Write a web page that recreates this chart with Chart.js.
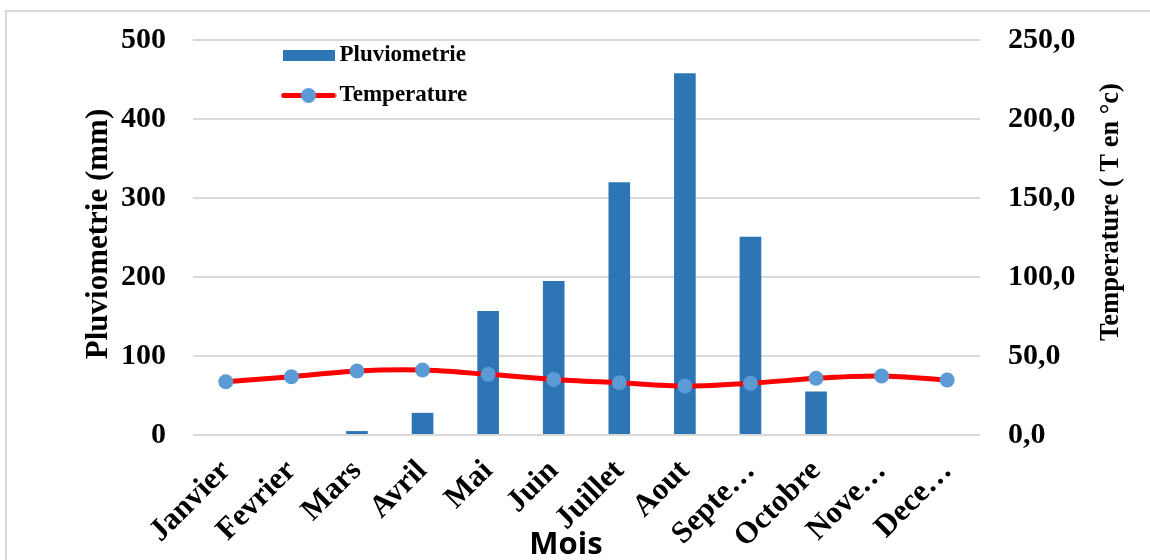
<!DOCTYPE html>
<html>
<head>
<meta charset="utf-8">
<script src="https://cdn.jsdelivr.net/npm/chart.js@4.4.1/dist/chart.umd.min.js"></script>
<style>
  html, body { margin: 0; padding: 0; background: #fff; overflow: hidden; }
  #wrap { position: relative; width: 1150px; height: 560px; }
  #frame { position: absolute; left: 5px; top: 10px; width: 1200px; height: 600px; border: 2px solid #d9d9d9; box-sizing: border-box; }
  canvas { position: absolute; left: 0; top: 0; }
</style>
</head>
<body>
<div id="wrap">
  <div id="frame"></div>
  <canvas id="climChart" width="1150" height="560"></canvas>
</div>
<script>
const months = ['Janvier', 'Fevrier', 'Mars', 'Avril', 'Mai', 'Juin', 'Juillet', 'Aout', 'Septembre', 'Octobre', 'Novembre', 'Decembre'];
// libelles tels qu'affiches (tronques) sous l'axe
const monthTicks = ['Janvier', 'Fevrier', 'Mars', 'Avril', 'Mai', 'Juin', 'Juillet', 'Aout', 'Septe\u2026', 'Octobre', 'Nove\u2026', 'Dece\u2026'];
const pluvio = [0, 0, 5, 28, 157, 195, 320, 458, 251, 55, 0, 0];
const temperature = [33.7, 36.9, 40.5, 41.1, 38.4, 35.2, 33.1, 31.0, 32.7, 35.9, 37.3, 34.8];
const pluvioRange = [0, 500, 100];
const tempRange = [0, 250, 50];

const serif = '"Liberation Serif", "Times New Roman", serif';
const barColor = '#2e75b6';
const lineColor = '#ff0000';
const pointColor = '#5b9bd5';

// petites vignettes pour la legende
function swatchBar() {
  const c = document.createElement('canvas');
  c.width = 52; c.height = 11;
  const g = c.getContext('2d');
  g.fillStyle = barColor;
  g.fillRect(0, 0, 52, 11);
  return c;
}
function swatchLine() {
  const c = document.createElement('canvas');
  c.width = 56; c.height = 17;
  const g = c.getContext('2d');
  g.strokeStyle = lineColor;
  g.lineWidth = 5;
  g.lineCap = 'round';
  g.beginPath(); g.moveTo(3, 8.5); g.lineTo(53, 8.5); g.stroke();
  g.fillStyle = pointColor;
  g.beginPath(); g.arc(28, 8.5, 7.5, 0, Math.PI * 2); g.fill();
  return c;
}
const swatches = [swatchBar(), swatchLine()];

const noVPad = (s) => { s.paddingTop = 0; s.paddingBottom = 0; };

const extras = {
  id: 'extras',
  beforeDraw(chart) {
    const lg = chart.legend;
    lg.left = 272; lg.top = 27;
    lg.right = chart.chartArea.right; lg.bottom = chart.chartArea.bottom;
  },
  afterDraw(chart) {
    const ctx = chart.ctx;
    ctx.save();
    ctx.fillStyle = '#000';
    ctx.textAlign = 'center';
    ctx.textBaseline = 'middle';
    ctx.font = 'bold 31px ' + serif;
    ctx.save();
    ctx.translate(99, 234);
    ctx.rotate(-Math.PI / 2);
    ctx.fillText('Pluviometrie (mm)', 0, 0);
    ctx.restore();
    ctx.font = 'bold 26.5px ' + serif;
    ctx.save();
    ctx.translate(1111, 212);
    ctx.rotate(-Math.PI / 2);
    ctx.fillText('Temperature ( T en \u00b0c)', 0, 0);
    ctx.restore();
    ctx.font = 'bold 31px "Open Sans", sans-serif';
    ctx.textBaseline = 'alphabetic';
    ctx.fillText('Mois', 566, 554);
    ctx.restore();
  }
};

new Chart(document.getElementById('climChart'), {
  data: {
    labels: monthTicks,
    datasets: [
      {
        type: 'line',
        label: 'Temperature',
        data: temperature,
        yAxisID: 'y1',
        borderColor: lineColor,
        borderWidth: 5,
        tension: 0.3,
        pointRadius: 7.5,
        pointBackgroundColor: pointColor,
        pointBorderWidth: 0,
        order: 0
      },
      {
        type: 'bar',
        label: 'Pluviometrie',
        data: pluvio,
        yAxisID: 'y',
        backgroundColor: barColor,
        barPercentage: 0.33,
        categoryPercentage: 1,
        order: 1
      }
    ]
  },
  options: {
    responsive: false,
    animation: false,
    layout: { padding: { top: 40, left: 0, right: 0, bottom: 0 } },
    plugins: {
      tooltip: { enabled: false },
      legend: {
        position: 'chartArea',
        align: 'start',
        labels: {
          usePointStyle: true,
          pointStyleWidth: 39,
          padding: 17,
          color: '#000',
          font: { family: serif, size: 23, weight: 'bold' },
          generateLabels: (chart) => ['Pluviometrie', 'Temperature'].map((name, i) => ({
            text: name,
            pointStyle: swatches[i],
            fillStyle: i === 0 ? barColor : pointColor,
            strokeStyle: 'transparent',
            lineWidth: 0,
            fontColor: '#000',
            datasetIndex: i === 0 ? 1 : 0
          }))
        }
      }
    },
    scales: {
      x: {
        grid: { display: false, drawTicks: false },
        border: { display: false },
        ticks: {
          color: '#000',
          autoSkip: false,
          minRotation: 45,
          maxRotation: 45,
          padding: 18,
          font: { family: serif, size: 31, weight: 'bold' }
        },
        afterFit: (s) => { s.height = 125; }
      },
      y: {
        position: 'left',
        min: pluvioRange[0],
        max: pluvioRange[1],
        grid: { color: '#d9d9d9', lineWidth: 2, drawTicks: false },
        border: { display: false },
        ticks: {
          stepSize: pluvioRange[2],
          color: '#000',
          padding: 27,
          font: { family: serif, size: 30, weight: 'bold' }
        },
        afterFit: (s) => { s.width = 193; noVPad(s); }
      },
      y1: {
        position: 'right',
        min: tempRange[0],
        max: tempRange[1],
        grid: { display: false, drawTicks: false },
        border: { display: false },
        ticks: {
          stepSize: tempRange[2],
          color: '#000',
          padding: 28,
          font: { family: serif, size: 30, weight: 'bold' },
          callback: (v) => v.toFixed(1).replace('.', ',')
        },
        afterFit: (s) => { s.width = 170; noVPad(s); }
      }
    }
  },
  plugins: [extras]
});
</script>
</body>
</html>
